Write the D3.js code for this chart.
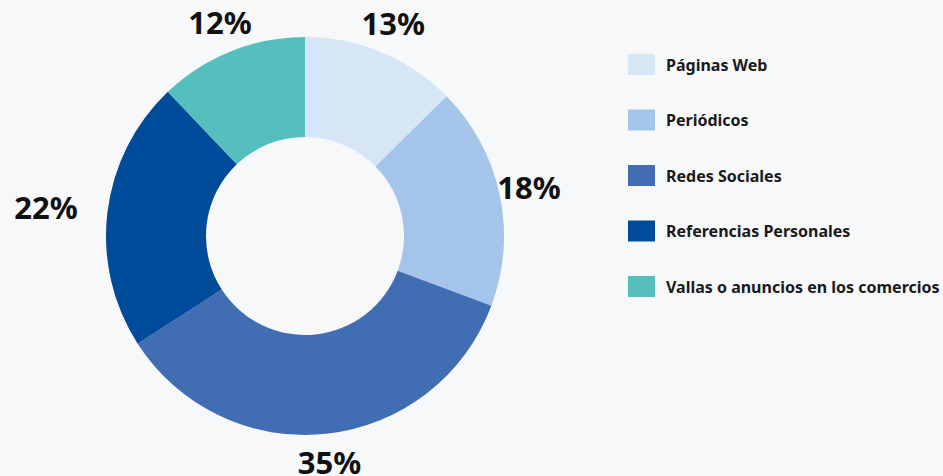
<!DOCTYPE html>
<html>
<head>
<meta charset="utf-8">
<script src="https://cdn.jsdelivr.net/npm/d3@7"></script>
<style>
  html, body { margin: 0; padding: 0; background: #f7f8fa; }
  #chart { width: 943px; height: 476px; }
  text { font-family: "Noto Sans", "Open Sans", sans-serif; }
</style>
</head>
<body>
<div id="chart"></div>
<script>
// data
var categories = ['Páginas Web', 'Periódicos', 'Redes Sociales', 'Referencias Personales', 'Vallas o anuncios en los comercios'];
var values = [12.6, 18.1, 35.2, 22.0, 12.1];
var labels = ['13%', '18%', '35%', '22%', '12%'];
var colors = ['#d6e6f7', '#a4c5e9', '#416db3', '#004a9a', '#55bfbe'];

var chart_width = 943
var chart_height = 476
var cx = 305, cy = 236
var outer_r = 199, inner_r = 99
var label_r = 229

var svg = d3.select('#chart')
    .append('svg')
    .attr('width', chart_width)
    .attr('height', chart_height);

var g = svg.append('g')
    .attr('transform', 'translate(' + cx + ',' + cy + ')');

var pie = d3.pie()
    .sort(null)
    .value(function(d){ return d; });

var arcs = pie(values);

var arc = d3.arc()
    .innerRadius(inner_r)
    .outerRadius(outer_r);

g.selectAll('path')
    .data(arcs)
    .enter()
    .append('path')
    .attr('d', arc)
    .attr('fill', function(d, i){ return colors[i]; });

// percent labels outside the ring
g.selectAll('text.pct')
    .data(arcs)
    .enter()
    .append('text')
    .attr('class', 'pct')
    .text(function(d, i){ return labels[i]; })
    .each(function(d){
        var a = (d.startAngle + d.endAngle) / 2;
        var s = Math.sin(a);
        var anchor = 'middle';
        if (s < -0.985) anchor = 'end';
        if (s > 0.985) anchor = 'start';
        d3.select(this)
            .attr('x', label_r * s)
            .attr('y', -label_r * Math.cos(a))
            .attr('text-anchor', anchor);
    })
    .attr('dy', '0.34em')
    .attr('font-size', 31)
    .attr('font-weight', 700)
    .attr('fill', '#111');

// legend
var legend = svg.append('g')
    .attr('transform', 'translate(628,54)');

var item = legend.selectAll('g')
    .data(categories)
    .enter()
    .append('g')
    .attr('transform', function(d, i){ return 'translate(0,' + (i * 55.5) + ')'; });

item.append('rect')
    .attr('width', 27)
    .attr('height', 21)
    .attr('fill', function(d, i){ return colors[i]; });

item.append('text')
    .attr('x', 38)
    .attr('y', 16.5)
    .attr('font-size', 16)
    .attr('font-weight', 700)
    .attr('fill', '#1a1a1a')
    .text(function(d){ return d; });
</script>
</body>
</html>
